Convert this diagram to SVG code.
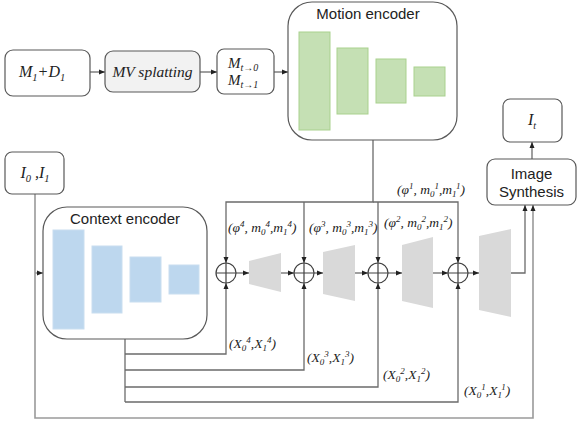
<svg xmlns="http://www.w3.org/2000/svg" width="577" height="423" viewBox="0 0 577 423">
<style>
.box{fill:#fff;stroke:#595959;stroke-width:1.2}
.ln{fill:none;stroke:#6b6b6b;stroke-width:1.3}
.lg{fill:none;stroke:#9a9a9a;stroke-width:1.6}
.mi{font-family:"Liberation Serif",serif;font-style:italic;fill:#222}
.sn{font-family:"Liberation Sans",sans-serif;fill:#222;font-size:15px}
.s{font-size:9px}
.gr{fill:#c5e0b4;stroke:#a9d18e;stroke-width:1}
.bl{fill:#bdd7ee;stroke:#c9def0;stroke-width:1}
.tz{fill:#d9d9d9}
.cp{fill:#fff;stroke:#404040;stroke-width:1.2}
</style>
<defs>
<marker id="a" markerWidth="6" markerHeight="6" refX="6" refY="3" orient="auto" markerUnits="userSpaceOnUse">
<path d="M0,0.5 L6,3 L0,5.5 z" fill="#222"/>
</marker>
</defs>

<g id="connectors">
<path class="ln" d="M90,72 H105" marker-end="url(#a)"/>
<path class="ln" d="M200,72 H217" marker-end="url(#a)"/>
<path class="ln" d="M274,72 H288" marker-end="url(#a)"/>
<path class="ln" d="M373,140 V202 H226 V263" marker-end="url(#a)"/>
<path class="ln" d="M373,202 H458 V263" marker-end="url(#a)"/>
<path class="ln" d="M304,202 V263" marker-end="url(#a)"/>
<path class="ln" d="M378,202 V263" marker-end="url(#a)"/>
<path class="ln" d="M125,339 V402"/>
<path class="ln" d="M125,354 H226 V283" marker-end="url(#a)"/>
<path class="ln" d="M125,370 H304 V283" marker-end="url(#a)"/>
<path class="ln" d="M125,387 H378 V283" marker-end="url(#a)"/>
<path class="ln" d="M125,402 H458 V283" marker-end="url(#a)"/>
<path class="ln" d="M236,273 H249" marker-end="url(#a)"/>
<path class="ln" d="M281,273 H294" marker-end="url(#a)"/>
<path class="ln" d="M314,273 H323" marker-end="url(#a)"/>
<path class="ln" d="M355,273 H368" marker-end="url(#a)"/>
<path class="ln" d="M388,273 H402" marker-end="url(#a)"/>
<path class="ln" d="M433,273 H448" marker-end="url(#a)"/>
<path class="ln" d="M468,273 H479" marker-end="url(#a)"/>
<path class="ln" d="M510,273 H525 V205" marker-end="url(#a)"/>
<path class="lg" d="M35,194 V418 H533 V205" marker-end="url(#a)"/>
<path class="lg" d="M35,273 H43" marker-end="url(#a)"/>
<path class="ln" d="M532,159 V142" marker-end="url(#a)"/>
</g>

<g id="m1d1">
<rect class="box" x="5" y="50" width="85" height="46" rx="8"/>
<text class="mi" x="19" y="77" font-size="16">M<tspan font-size="10.5" dy="4">1</tspan><tspan dy="-4">+D</tspan><tspan font-size="10.5" dy="4">1</tspan></text>
</g>

<g id="mvsplat">
<rect class="box" x="105" y="51" width="95" height="41" rx="8" style="fill:#f2f2f2"/>
<text class="mi" x="152.5" y="77" font-size="15.5" text-anchor="middle">MV splatting</text>
</g>

<g id="mt">
<rect class="box" x="217" y="49" width="57" height="45" rx="7"/>
<text class="mi" x="228" y="68" font-size="15">M<tspan font-size="10" dy="3">t→0</tspan></text>
<text class="mi" x="228" y="85" font-size="15">M<tspan font-size="10" dy="3">t→1</tspan></text>
</g>

<g id="motion-encoder">
<rect class="box" x="288" y="2" width="169" height="138" rx="24"/>
<text class="sn" x="368" y="19" text-anchor="middle">Motion encoder</text>
<rect class="gr" x="299" y="32" width="31" height="98"/>
<rect class="gr" x="337" y="48" width="31" height="66"/>
<rect class="gr" x="376" y="59" width="30" height="44"/>
<rect class="gr" x="414" y="67" width="31" height="29"/>
</g>

<g id="it">
<rect class="box" x="503" y="99" width="59" height="43" rx="7"/>
<text class="mi" x="532" y="125" font-size="16" text-anchor="middle">I<tspan font-size="10" dy="4">t</tspan></text>
</g>

<g id="image-synthesis">
<rect class="box" x="487" y="159" width="89" height="46" rx="8"/>
<text class="sn" x="531.5" y="179" text-anchor="middle" font-size="14.5">Image</text>
<text class="sn" x="531.5" y="197" text-anchor="middle" font-size="14.5">Synthesis</text>
</g>

<g id="i0i1">
<rect class="box" x="5" y="152" width="59" height="42" rx="7"/>
<text class="mi" x="35" y="178" font-size="16" text-anchor="middle">I<tspan font-size="10.5" dy="4">0</tspan><tspan dy="-4"> ,I</tspan><tspan font-size="10.5" dy="4">1</tspan></text>
</g>

<g id="context-encoder">
<rect class="box" x="43" y="207" width="164" height="132" rx="24"/>
<text class="sn" x="125" y="224" text-anchor="middle">Context encoder</text>
<rect class="bl" x="53" y="230" width="31" height="99"/>
<rect class="bl" x="92" y="246" width="30" height="67"/>
<rect class="bl" x="130" y="257" width="31" height="45"/>
<rect class="bl" x="169" y="265" width="30" height="29"/>
</g>

<g id="decoder">
<polygon class="tz" points="249,261 281,253 281,292 249,284"/>
<polygon class="tz" points="323,252 355,245 355,301 323,294"/>
<polygon class="tz" points="402,245 433,237 433,308 402,301"/>
<polygon class="tz" points="479,236 511,229 511,317 479,310"/>
</g>

<g id="adders">
<g><circle class="cp" cx="226" cy="273" r="10"/><path d="M216,273 H236 M226,263 V283" stroke="#404040" stroke-width="1.2"/></g>
<g><circle class="cp" cx="304" cy="273" r="10"/><path d="M294,273 H314 M304,263 V283" stroke="#404040" stroke-width="1.2"/></g>
<g><circle class="cp" cx="378" cy="273" r="10"/><path d="M368,273 H388 M378,263 V283" stroke="#404040" stroke-width="1.2"/></g>
<g><circle class="cp" cx="458" cy="273" r="10"/><path d="M448,273 H468 M458,263 V283" stroke="#404040" stroke-width="1.2"/></g>
</g>

<g id="labels" class="mi" font-size="13.5">
<text x="228" y="232">(φ<tspan class="s" dy="-5">4</tspan><tspan dy="5">, m</tspan><tspan class="s" dy="3">0</tspan><tspan class="s" dy="-8">4</tspan><tspan dy="5">,m</tspan><tspan class="s" dy="3">1</tspan><tspan class="s" dy="-8">4</tspan><tspan dy="5">)</tspan></text>
<text x="309" y="232">(φ<tspan class="s" dy="-5">3</tspan><tspan dy="5">, m</tspan><tspan class="s" dy="3">0</tspan><tspan class="s" dy="-8">3</tspan><tspan dy="5">,m</tspan><tspan class="s" dy="3">1</tspan><tspan class="s" dy="-8">3</tspan><tspan dy="5">)</tspan></text>
<text x="384" y="227">(φ<tspan class="s" dy="-5">2</tspan><tspan dy="5">, m</tspan><tspan class="s" dy="3">0</tspan><tspan class="s" dy="-8">2</tspan><tspan dy="5">,m</tspan><tspan class="s" dy="3">1</tspan><tspan class="s" dy="-8">2</tspan><tspan dy="5">)</tspan></text>
<text x="397" y="194">(φ<tspan class="s" dy="-5">1</tspan><tspan dy="5">, m</tspan><tspan class="s" dy="3">0</tspan><tspan class="s" dy="-8">1</tspan><tspan dy="5">,m</tspan><tspan class="s" dy="3">1</tspan><tspan class="s" dy="-8">1</tspan><tspan dy="5">)</tspan></text>
<text x="229" y="348">(X<tspan class="s" dy="3">0</tspan><tspan class="s" dy="-8">4</tspan><tspan dy="5">,X</tspan><tspan class="s" dy="3">1</tspan><tspan class="s" dy="-8">4</tspan><tspan dy="5">)</tspan></text>
<text x="307" y="362">(X<tspan class="s" dy="3">0</tspan><tspan class="s" dy="-8">3</tspan><tspan dy="5">,X</tspan><tspan class="s" dy="3">1</tspan><tspan class="s" dy="-8">3</tspan><tspan dy="5">)</tspan></text>
<text x="383" y="379">(X<tspan class="s" dy="3">0</tspan><tspan class="s" dy="-8">2</tspan><tspan dy="5">,X</tspan><tspan class="s" dy="3">1</tspan><tspan class="s" dy="-8">2</tspan><tspan dy="5">)</tspan></text>
<text x="464" y="395">(X<tspan class="s" dy="3">0</tspan><tspan class="s" dy="-8">1</tspan><tspan dy="5">,X</tspan><tspan class="s" dy="3">1</tspan><tspan class="s" dy="-8">1</tspan><tspan dy="5">)</tspan></text>
</g>
</svg>
